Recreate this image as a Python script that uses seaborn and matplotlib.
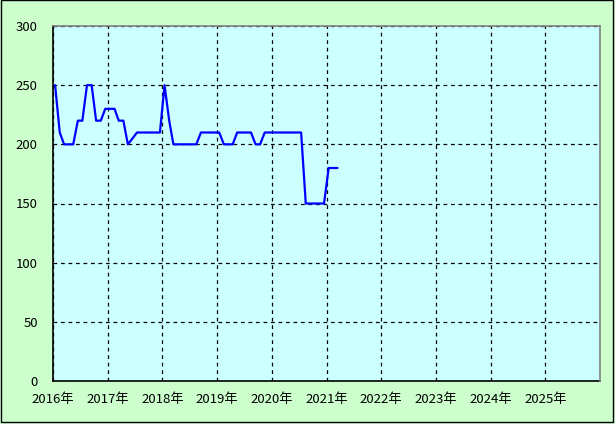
import numpy as np
import pandas as pd
import matplotlib
matplotlib.use('Agg')
import matplotlib.pyplot as plt
import matplotlib.dates as mdates
from matplotlib.patches import Rectangle
import seaborn as sns

# monthly values, Jan 2016 - Mar 2021
start_month = '2016-01-01'
values = [250, 210, 200, 200, 200, 220, 220, 250, 250, 220, 220, 230,
          230, 230, 220, 220, 200, 205, 210, 210, 210, 210, 210, 210,
          250, 220, 200, 200, 200, 200, 200, 200, 210, 210, 210, 210,
          210, 200, 200, 200, 210, 210, 210, 210, 200, 200, 210, 210,
          210, 210, 210, 210, 210, 210, 210, 150, 150, 150, 150, 150,
          180, 180, 180]
years = list(range(2016, 2026))
y_ticks = [0, 50, 100, 150, 200, 250, 300]

# points sit mid-month
dates = pd.date_range(start_month, periods=len(values), freq='MS') + pd.Timedelta(days=14)
df = pd.DataFrame({'date': dates, 'value': values})

sns.set_style('white')
plt.rcParams['font.family'] = ['Noto Sans CJK JP', 'DejaVu Sans']

fig = plt.figure(figsize=(6.15, 4.24), dpi=100, facecolor='#ccffcc')
ax = fig.add_axes([53 / 615, 43 / 424, 547 / 615, 355 / 424])
ax.set_facecolor('#ccffff')

sns.lineplot(data=df, x='date', y='value', ax=ax, color='#0000ff', linewidth=1.6)

ax.set_xlim(pd.Timestamp('2016-01-01'), pd.Timestamp('2026-01-01'))
ax.set_ylim(0, 300)
ax.set_xticks([pd.Timestamp(f'{y}-01-01') for y in years])
ax.xaxis.set_major_formatter(mdates.DateFormatter('%Y年'))
ax.set_yticks(y_ticks)
ax.set_xlabel('')
ax.set_ylabel('')
ax.tick_params(axis='both', length=0, labelsize=9.5, colors='black')
ax.tick_params(axis='y', pad=11)
ax.tick_params(axis='x', pad=9)

ax.grid(True, color='black', linestyle=(0, (3, 3)), linewidth=0.9)

for side in ['left', 'bottom']:
    ax.spines[side].set_color('black')
    ax.spines[side].set_linewidth(1.2)
for side in ['top', 'right']:
    ax.spines[side].set_color('#808080')
    ax.spines[side].set_linewidth(1.2)
    ax.spines[side].set_zorder(5)

fig.patches.append(Rectangle((0.001, 0.005), 0.996, 0.994, transform=fig.transFigure,
                             fill=False, edgecolor='black', linewidth=1))

fig.savefig('out.png', dpi=100, facecolor=fig.get_facecolor())
plt.close('all')
